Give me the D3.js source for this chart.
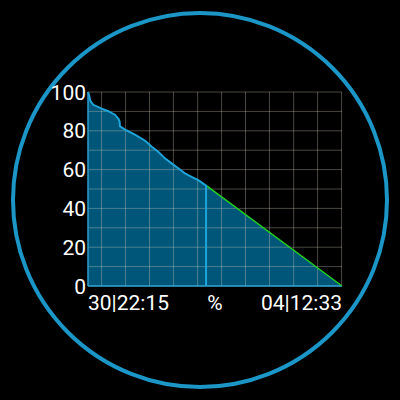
<!DOCTYPE html>
<html>
<head>
<meta charset="utf-8">
<script src="https://cdn.jsdelivr.net/npm/d3@7"></script>
<style>
  body { margin: 0; background: #000; }
  svg { display: block; }
</style>
</head>
<body>
<script>
// battery history, hours since start vs percent
var hours = [0, 0.43, 1.0, 2.3, 5.95, 8.8, 11.7, 13.2, 13.7, 13.9, 16.1, 20.4, 24.8, 27.7, 30.5, 33.4, 36.3, 39.2, 42.1, 45.0, 47.9, 50.8, 51.7]
var levels = [100, 98.6, 95.5, 93.4, 91.4, 90.1, 88.3, 86.2, 84.9, 82.3, 80.6, 78.0, 74.9, 71.8, 69.2, 65.8, 63.2, 60.7, 58.1, 56.3, 54.6, 52.1, 51.5]

// projection to empty
var projHours = [51.7, 110.3]
var projLevels = [51.5, 0]

var yTicks = [0, 20, 40, 60, 80, 100]
var yGrid = [0, 10, 20, 30, 40, 50, 60, 70, 80, 90, 100]
var xGrid = [5.9, 16.3, 26.7, 37.1, 47.6, 58.0, 68.4, 78.8, 89.3, 99.7, 110.1]
var xLabels = ['30|22:15', '%', '04|12:33']

var W = 400, H = 400
var svg = d3.select('body').append('svg').attr('width', W).attr('height', H)

svg.append('circle')
  .attr('cx', 200).attr('cy', 200).attr('r', 187)
  .attr('fill', 'none')
  .attr('stroke', '#1b96c6')
  .attr('stroke-width', 4)

var x = d3.scaleLinear().domain([0, 110.3]).range([88, 342])
var y = d3.scaleLinear().domain([0, 100]).range([286, 92])

var data = hours.map(function(h, i){ return {h: h, v: levels[i]} })
var proj = projHours.map(function(h, i){ return {h: h, v: projLevels[i]} })

var area = d3.area()
  .x(function(d){ return x(d.h) })
  .y0(y(0))
  .y1(function(d){ return y(d.v) })

svg.append('path')
  .attr('d', area(data.concat(proj.slice(1))))
  .attr('fill', '#005679')

// grid
var grid = svg.append('g')
  .attr('stroke', '#e0d8c0')
  .attr('stroke-opacity', 0.33)
  .attr('stroke-width', 1)
grid.selectAll('.hg').data(yGrid).enter().append('line')
  .attr('x1', x(0)).attr('x2', x(110.3))
  .attr('y1', function(d){ return y(d) }).attr('y2', function(d){ return y(d) })
grid.selectAll('.vg').data(xGrid).enter().append('line')
  .attr('x1', function(d){ return x(d) }).attr('x2', function(d){ return x(d) })
  .attr('y1', y(0)).attr('y2', y(100))

// left / bottom frame
svg.append('line')
  .attr('x1', x(0)).attr('x2', x(0)).attr('y1', y(0)).attr('y2', y(100))
  .attr('stroke', '#2a9fd0').attr('stroke-width', 1.5)
svg.append('line')
  .attr('x1', x(0)).attr('x2', x(110.3)).attr('y1', y(0)).attr('y2', y(0))
  .attr('stroke', '#2a9fd0').attr('stroke-width', 1.5)

var line = d3.line()
  .x(function(d){ return x(d.h) })
  .y(function(d){ return y(d.v) })

svg.append('path')
  .attr('d', line(data))
  .attr('fill', 'none')
  .attr('stroke', '#1ea4d8')
  .attr('stroke-width', 2)

svg.append('path')
  .attr('d', line(proj))
  .attr('fill', 'none')
  .attr('stroke', '#22d022')
  .attr('stroke-width', 1.5)

// now marker
var last = data[data.length - 1]
svg.append('line')
  .attr('x1', x(last.h) - 1).attr('x2', x(last.h) - 1)
  .attr('y1', y(0)).attr('y2', y(last.v))
  .attr('stroke', '#1ea4d8').attr('stroke-width', 2)

// labels
svg.selectAll('.yl').data(yTicks).enter().append('text')
  .attr('x', 86)
  .attr('y', function(d){ return y(d) })
  .attr('dy', '0.36em')
  .attr('text-anchor', 'end')
  .attr('fill', '#fff')
  .attr('font-family', 'Roboto, sans-serif')
  .attr('font-size', 21)
  .text(function(d){ return d })

svg.selectAll('.xl').data(xLabels).enter().append('text')
  .attr('x', function(d, i){ return [88, 215, 342][i] })
  .attr('y', 310)
  .attr('text-anchor', function(d, i){ return ['start', 'middle', 'end'][i] })
  .attr('fill', '#fff')
  .attr('font-family', 'Roboto, sans-serif')
  .attr('font-size', 21)
  .text(function(d){ return d })
</script>
</body>
</html>
